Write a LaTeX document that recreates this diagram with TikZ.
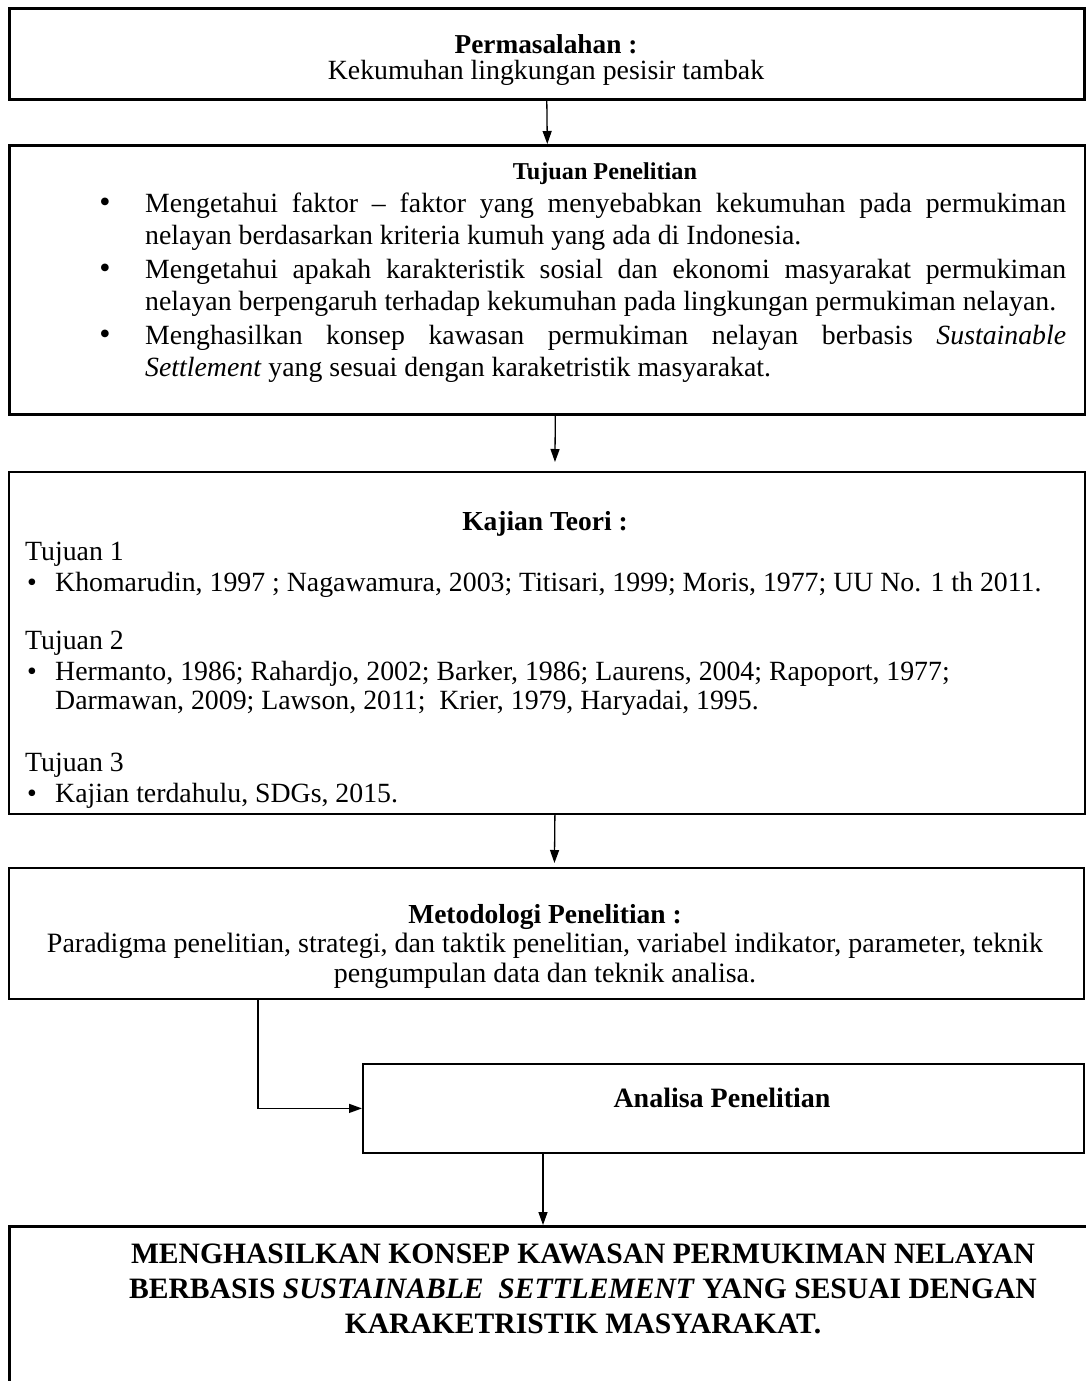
\documentclass[tikz,border=0pt]{standalone}
\usepackage{fontspec}
\setmainfont{Liberation Serif}
\usetikzlibrary{arrows.meta}

\tikzset{
  kotak/.style={draw, line width=1.8pt, inner sep=0pt, anchor=north west},
  kotaktebal/.style={kotak, line width=2.6pt},
  panah/.style={line width=1.3pt, -{Triangle[length=13pt,width=9pt]}},
  teks/.style={inner sep=0pt, font=\fontsize{27.8}{32}\selectfont},
  judul/.style={inner sep=0pt, font=\bfseries\fontsize{27.5}{32}\selectfont}
}

\begin{document}
\begin{tikzpicture}[x=1pt,y=-1pt]
    \useasboundingbox (0,0) rectangle (1086,1381);

    \node[kotaktebal, minimum width=1075pt, minimum height=91pt] (masalah) at (8,7) {};
    \node[judul, font=\bfseries\fontsize{27.3}{32}\selectfont, anchor=base] (masalahjudul) at (546,53) {Permasalahan :};
    \node[teks, anchor=base] (masalahisi) at (546,79) {Kekumuhan lingkungan pesisir tambak};

    \node[kotaktebal, minimum width=1076pt, minimum height=269pt] (tujuan) at (8,144) {};
    \node[judul, font=\bfseries\fontsize{24.2}{28}\selectfont, anchor=base] (tujuanjudul) at (605,179) {Tujuan Penelitian};
    \foreach \y in {212,278,344}
      \node[teks, font=\fontsize{32}{32}\selectfont, anchor=base] (titik\y) at (105,\y) {\textbullet};
    \node[teks, text width=921pt, align=justify, anchor=base west] (tujuan1) at (145,212)
      {Mengetahui faktor – faktor yang menyebabkan kekumuhan pada permukiman\linebreak nelayan berdasarkan kriteria kumuh yang ada di Indonesia.};
    \node[teks, text width=921pt, align=justify, anchor=base west] (tujuan2) at (145,278)
      {Mengetahui apakah karakteristik sosial dan ekonomi masyarakat permukiman\linebreak nelayan berpengaruh terhadap kekumuhan pada lingkungan permukiman nelayan.};
    \node[teks, text width=921pt, align=justify, anchor=base west] (tujuan3) at (145,344)
      {Menghasilkan konsep kawasan permukiman nelayan berbasis \textit{Sustainable}\linebreak \textit{Settlement} yang sesuai dengan karaketristik masyarakat.};

    \node[kotak, minimum width=1076pt, minimum height=342pt] (kajian) at (8,471) {};
    \node[judul, anchor=base] (kajianjudul) at (545,530) {Kajian Teori :};
    \node[teks, anchor=base west] (tj1) at (25,560) {Tujuan 1};
    \node[teks, anchor=base west] (tj2) at (25,649) {Tujuan 2};
    \node[teks, anchor=base west] (tj3) at (25,771) {Tujuan 3};
    \foreach \y in {591,680,802}
      \node[teks, anchor=base] (poin\y) at (32,\y) {\textbullet};
    \node[teks, anchor=base west] (acuan1) at (55,591)
      {Khomarudin, 1997 ; Nagawamura, 2003; Titisari, 1999; Moris, 1977; UU No. 1 th 2011.};
    \node[teks, font=\fontsize{27.8}{29}\selectfont, text width=1010pt, align=flush left, anchor=base west] (acuan2) at (55,680)
      {Hermanto, 1986; Rahardjo, 2002; Barker, 1986; Laurens, 2004; Rapoport, 1977;\\
       Darmawan, 2009; Lawson, 2011;~ Krier, 1979, Haryadai, 1995.};
    \node[teks, anchor=base west] (acuan3) at (55,802) {Kajian terdahulu, SDGs, 2015.};

    \node[kotak, minimum width=1075pt, minimum height=131pt] (metode) at (8,867) {};
    \node[judul, anchor=base] (metodejudul) at (545,923) {Metodologi Penelitian :};
    \node[teks, font=\fontsize{28}{30}\selectfont, text width=1060pt, align=flush center, anchor=base] (metodeisi) at (545,952)
      {Paradigma penelitian, strategi, dan taktik penelitian, variabel indikator, parameter, teknik\\
       pengumpulan data dan teknik analisa.};

    \node[kotak, minimum width=721pt, minimum height=89pt] (analisa) at (362,1063) {};
    \node[judul, font=\bfseries\fontsize{28}{32}\selectfont, anchor=base] (analisajudul) at (722,1107) {Analisa Penelitian};

    \node[kotaktebal, minimum width=1090pt, minimum height=250pt] (hasil) at (8,1225) {};
    \node[judul, font=\bfseries\fontsize{29.6}{35}\selectfont, text width=1060pt, align=flush center, anchor=base] (hasilisi) at (583,1263)
      {MENGHASILKAN KONSEP KAWASAN PERMUKIMAN NELAYAN\\
       BERBASIS \textit{SUSTAINABLE~ SETTLEMENT} YANG SESUAI DENGAN\\
       KARAKETRISTIK MASYARAKAT.};

    \draw[panah] (masalah.south) -- (tujuan.north);
    \draw[panah, shorten >=9pt] ([xshift=8pt]tujuan.south) -- ([xshift=8pt]kajian.north);
    \draw[panah, shorten >=4pt] ([xshift=8pt]kajian.south) -- ([xshift=8pt]metode.north);
    \draw[panah] ([xshift=250pt]metode.south west) |- (analisa.west);
    \coordinate (turun) at ([xshift=181pt]analisa.south west);
    \draw[panah] (turun) -- (turun |- hasil.north);
\end{tikzpicture}
\end{document}
